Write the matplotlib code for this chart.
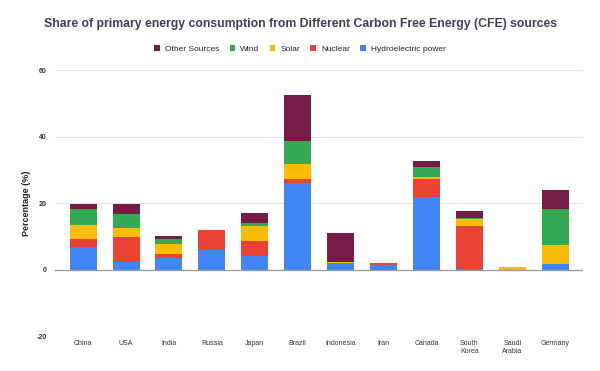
import numpy as np
import matplotlib.pyplot as plt

countries = ['China', 'USA', 'India', 'Russia', 'Japan', 'Brazil', 'Indonesia',
             'Iran', 'Canada', 'South\nKorea', 'Saudi\nArabia', 'Germany']
hydro = [6.9, 2.2, 3.4, 5.8, 4.1, 26.2, 2.1, 1.5, 21.9, 0.2, 0.0, 1.7]
nuclear = [2.2, 7.6, 1.2, 6.1, 4.5, 1.0, 0.0, 0.5, 5.3, 12.9, 0.0, 0.0]
solar = [4.2, 2.7, 3.0, 0.0, 4.5, 4.6, 0.1, 0.0, 0.6, 2.2, 0.8, 5.7]
wind = [5.0, 4.3, 1.6, 0.0, 0.9, 6.9, 0.0, 0.0, 3.0, 0.2, 0.0, 10.8]
other = [1.5, 2.8, 1.0, 0.1, 3.0, 13.7, 8.7, 0.0, 1.8, 2.1, 0.0, 5.8]

series = [('Hydroelectric power', hydro, '#4285F4'),
          ('Nuclear', nuclear, '#EA4335'),
          ('Solar', solar, '#FBBC04'),
          ('Wind', wind, '#34A853'),
          ('Other Sources', other, '#741B47')]

plt.rcParams['font.family'] = ['Liberation Sans', 'DejaVu Sans']
plt.rcParams['axes.unicode_minus'] = False
fig = plt.figure(figsize=(6, 3.71), dpi=100)
ax = fig.add_axes([0.092, 0.094, 0.88, 0.717])

x = np.arange(len(countries))
bottom = np.zeros(len(countries))
handles = {}
for name, vals, col in series:
    vals = np.array(vals)
    b = ax.bar(x, vals, 0.63, bottom=bottom, color=col, label=name, zorder=3)
    handles[name] = b
    bottom += vals

ax.set_ylim(-20, 60)
ax.set_xlim(-0.65, len(countries) - 0.35)
ax.set_yticks([-20, 0, 20, 40, 60])
ax.grid(axis='y', color='#e6e6e6', linewidth=0.8, zorder=0)
ax.axhline(0, color='#999999', linewidth=0.9, zorder=4)
for s in ax.spines.values():
    s.set_visible(False)
ax.tick_params(axis='y', length=0, labelsize=5, pad=6)
ax.tick_params(axis='x', length=0, labelsize=5, pad=3)
ax.set_xticks(x)
ax.set_xticklabels(countries, color='#333333')
for lab in ax.get_yticklabels():
    lab.set_fontweight('bold')
    lab.set_color('#333333')
ax.set_ylabel('Percentage (%)', fontsize=6.5, fontweight='bold', color='#222222', labelpad=4)

fig.text(0.5, 0.935, 'Share of primary energy consumption from Different Carbon Free Energy (CFE) sources',
         ha='center', va='center', fontsize=8.8, fontweight='bold', color='#3c3f55')
order = ['Other Sources', 'Wind', 'Solar', 'Nuclear', 'Hydroelectric power']
leg = fig.legend([handles[n] for n in order], order, loc='center', bbox_to_anchor=(0.5, 0.868),
                 ncol=5, frameon=False, fontsize=6, handlelength=0.7, handleheight=0.7,
                 columnspacing=1.2, handletextpad=0.6)
for t in leg.get_texts():
    t.set_color('#222222')

plt.savefig('out.png', dpi=100)
